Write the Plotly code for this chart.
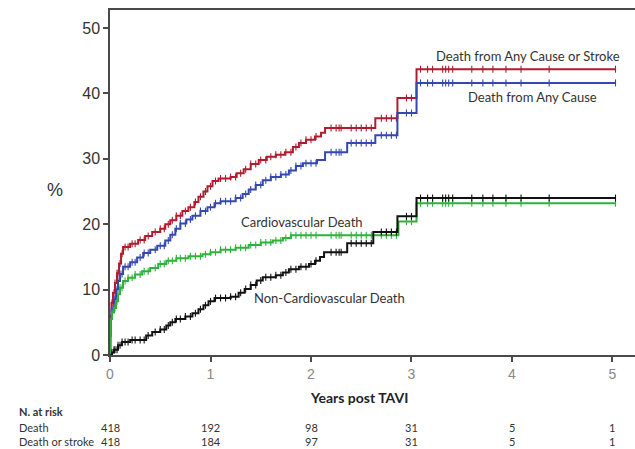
import plotly.graph_objects as go
import numpy as np

# ---------------- data ----------------
# Kaplan-Meier style cumulative incidence steps (years, %)
stroke_t = [0, 0.003, 0.008, 0.015, 0.03, 0.05, 0.07, 0.09, 0.11, 0.13, 0.2, 0.28, 0.35, 0.42, 0.5, 0.55,
            0.6, 0.66, 0.72, 0.78, 0.84, 0.88, 0.93, 0.97, 1.02, 1.08, 1.2, 1.26, 1.33, 1.4, 1.48, 1.56,
            1.65, 1.74, 1.82, 1.88, 1.95, 2.04, 2.1, 2.14, 2.64, 2.86, 3.05]
stroke_y = [0, 3, 6, 8, 9.5, 11, 12.5, 14, 15.5, 16.5, 17, 17.6, 18.2, 18.8, 19.3, 20,
            20.6, 21.3, 22, 22.6, 23.4, 24.2, 25, 25.8, 26.6, 27.0, 27.2, 27.8, 28.4, 29.2, 29.8, 30.3,
            30.6, 31.0, 31.8, 32.4, 32.9, 33.4, 34.0, 34.7, 36.2, 39.3, 43.7]

death_t = [0, 0.003, 0.008, 0.015, 0.04, 0.06, 0.08, 0.1, 0.13, 0.2, 0.27, 0.33, 0.4, 0.47, 0.55, 0.6,
           0.65, 0.7, 0.76, 0.82, 0.9, 0.97, 1.04, 1.1, 1.25, 1.32, 1.38, 1.45, 1.52, 1.6, 1.7, 1.78,
           1.85, 1.92, 2.06, 2.14, 2.36, 2.64, 2.86, 3.05]
death_y = [0, 3, 5.5, 7, 8.5, 10, 11.3, 12.4, 13.5, 14.2, 14.9, 15.6, 16.1, 16.7, 17.5, 18.4,
           19.3, 20.1, 20.7, 21.3, 22.0, 22.6, 23.2, 23.5, 24.0, 24.6, 25.3, 26.0, 26.7, 27.2, 27.6, 28.2,
           28.9, 29.3, 29.8, 31.0, 32.4, 33.6, 37.0, 41.6]

cv_t = [0, 0.003, 0.008, 0.02, 0.04, 0.06, 0.08, 0.1, 0.13, 0.18, 0.25, 0.32, 0.4, 0.48, 0.56, 0.66,
        0.78, 0.92, 1.0, 1.1, 1.25, 1.38, 1.5, 1.62, 1.72, 1.8, 2.87, 3.05]
cv_y = [0, 3, 5.5, 6.5, 7.2, 8.2, 9.3, 10.3, 11.3, 11.8, 12.3, 12.8, 13.3, 13.9, 14.4, 14.8,
        15.1, 15.4, 15.7, 16.1, 16.4, 16.8, 17.2, 17.5, 17.9, 18.3, 20.4, 23.2]

noncv_t = [0, 0.02, 0.04, 0.08, 0.12, 0.2, 0.36, 0.42, 0.5, 0.56, 0.6, 0.65, 0.75, 0.82, 0.88, 0.93,
           0.98, 1.04, 1.2, 1.28, 1.34, 1.4, 1.46, 1.52, 1.65, 1.72, 1.78, 1.88, 1.98, 2.04, 2.09, 2.13,
           2.36, 2.62, 2.86, 3.05]
noncv_y = [0, 0.4, 0.8, 1.5, 2.0, 2.3, 3.0, 3.5, 3.9, 4.5, 5.0, 5.5, 5.9, 6.4, 7.0, 7.6,
           8.2, 8.7, 8.9, 9.5, 10.1, 10.7, 11.4, 11.9, 12.2, 12.6, 13.1, 13.5, 13.9, 14.4, 15.0, 15.7,
           17.1, 18.8, 21.2, 24.0]

censor_t = [0.02, 0.04, 0.05, 0.07, 0.08, 0.1, 0.12, 0.15, 0.18, 0.22, 0.25, 0.3, 0.34, 0.38, 0.45,
            0.5, 0.54, 0.58, 0.62, 0.66, 0.7, 0.75, 0.8, 0.85, 0.9, 0.95, 1.0, 1.05, 1.1, 1.15,
            1.2, 1.25, 1.3, 1.35, 1.4, 1.45, 1.5, 1.55, 1.6, 1.65, 1.7, 1.75, 1.8, 1.85, 1.9, 1.95,
            2.0, 2.05, 2.2, 2.25, 2.28, 2.3, 2.4, 2.45, 2.5, 2.55, 2.6, 2.7, 2.75, 2.8, 2.85, 2.95,
            3.0, 3.09, 3.16, 3.21, 3.31, 3.34, 3.37, 3.41, 3.6, 3.71, 3.81, 3.94, 4.09, 4.37, 5.03]
end_t = 5.03

x_ticks = [0, 1, 2, 3, 4, 5]
y_ticks = [0, 10, 20, 30, 40, 50]
risk_death = [418, 192, 98, 31, 5, 1]
risk_death_stroke = [418, 184, 97, 31, 5, 1]

# ---------------- figure ----------------
fig = go.Figure()

def step_at(ts, ys, t):
    idx = np.searchsorted(ts, t, side="right") - 1
    return ys[max(idx, 0)]

series = [
    (stroke_t, stroke_y, "#b01c2e"),
    (death_t, death_y, "#3548b0"),
    (cv_t, cv_y, "#2fb23c"),
    (noncv_t, noncv_y, "#111111"),
]
for ts, ys, col in series:
    xs = list(ts) + [end_t]
    yv = list(ys) + [ys[-1]]
    fig.add_trace(go.Scatter(x=xs, y=yv, mode="lines", line=dict(color=col, width=2, shape="hv"),
                             showlegend=False, hoverinfo="skip"))
    cy = [step_at(ts, ys, t) for t in censor_t]
    fig.add_trace(go.Scatter(x=censor_t, y=cy, mode="markers",
                             marker=dict(symbol="line-ns", size=5, line=dict(color=col, width=1.1)),
                             showlegend=False, hoverinfo="skip"))

lab_font = dict(family="Lato, Open Sans, sans-serif", size=13, color="#333333")
fig.add_annotation(x=4.16, y=45.7, text="Death from Any Cause or Stroke", showarrow=False, font=lab_font)
fig.add_annotation(x=4.2, y=39.4, text="Death from Any Cause", showarrow=False, font=lab_font)
fig.add_annotation(x=1.91, y=20.3, text="Cardiovascular Death", showarrow=False, font=lab_font)
fig.add_annotation(x=2.18, y=8.7, text="Non-Cardiovascular Death", showarrow=False, font=lab_font)

# y-axis title
fig.add_annotation(xref="paper", yref="paper", x=-0.105, y=0.478, xanchor="center", yanchor="middle",
                   text="%", showarrow=False,
                   font=dict(family="Liberation Sans, Arial, sans-serif", size=18, color="#333333"))
# x-axis title
fig.add_annotation(xref="x", yref="paper", x=2.48, y=-0.123, xanchor="center", yanchor="middle",
                   text="<b>Years post TAVI</b>", showarrow=False,
                   font=dict(family="Lato, sans-serif", size=14, color="#222222"))

# number at risk table
tab_font = dict(family="Lato, sans-serif", size=11, color="#333333")
fig.add_annotation(xref="paper", yref="paper", x=-0.177, y=-0.165, xanchor="left", yanchor="middle",
                   text="<b>N. at risk</b>", showarrow=False, font=tab_font)
fig.add_annotation(xref="paper", yref="paper", x=-0.177, y=-0.209, xanchor="left", yanchor="middle",
                   text="Death", showarrow=False, font=tab_font)
fig.add_annotation(xref="paper", yref="paper", x=-0.177, y=-0.252, xanchor="left", yanchor="middle",
                   text="Death or stroke", showarrow=False, font=tab_font)
for xv, a, b in zip(x_ticks, risk_death, risk_death_stroke):
    fig.add_annotation(xref="x", yref="paper", x=xv, y=-0.209, xanchor="center", yanchor="middle",
                       text=str(a), showarrow=False, font=tab_font)
    fig.add_annotation(xref="x", yref="paper", x=xv, y=-0.252, xanchor="center", yanchor="middle",
                       text=str(b), showarrow=False, font=tab_font)

fig.update_layout(
    width=635, height=449,
    margin=dict(l=110, r=0, t=10, b=94),
    paper_bgcolor="white", plot_bgcolor="white",
    xaxis=dict(range=[0, 5.224], tickvals=x_ticks, showgrid=False, zeroline=False,
               showline=True, linecolor="#4a4a4a", linewidth=1.5, mirror=True,
               ticks="outside", ticklen=5, tickcolor="#4a4a4a", tickwidth=1.5,
               tickfont=dict(family="Liberation Sans, Arial, sans-serif", size=14, color="#888888")),
    yaxis=dict(range=[0, 52.75], tickvals=y_ticks, showgrid=False, zeroline=False,
               showline=True, linecolor="#4a4a4a", linewidth=1.5,
               ticks="outside", ticklen=5, tickcolor="#4a4a4a", tickwidth=1.5,
               tickfont=dict(family="Liberation Sans, Arial, sans-serif", size=16, color="#333333")),
)

fig.write_html("out.html")
